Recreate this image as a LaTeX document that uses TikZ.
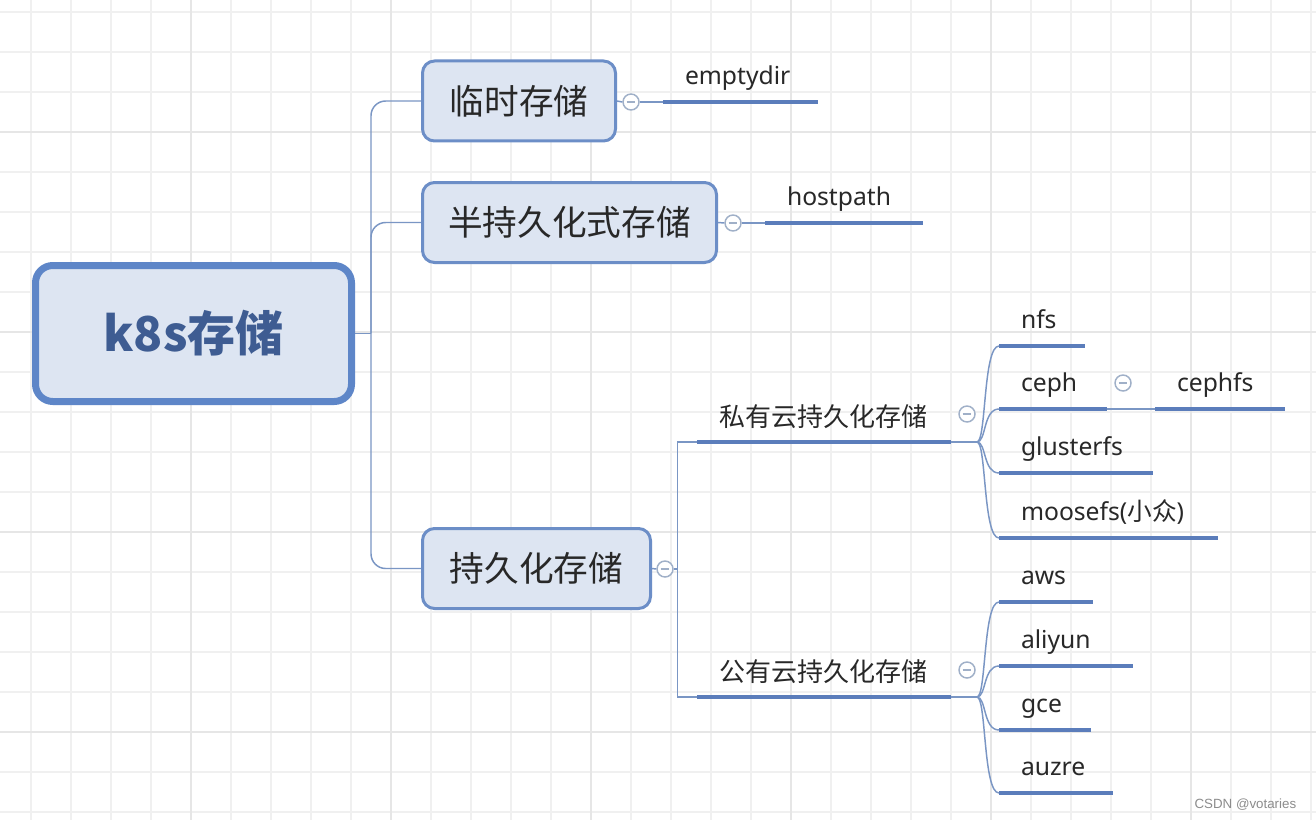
\documentclass[tikz,border=0pt]{standalone}
\usepackage{fontspec}
\setmainfont{Noto Sans}
\newfontfamily\cjk{Noto Sans CJK SC}
\newfontfamily\wmfont{Liberation Sans}
\usepackage{tikz}
\usetikzlibrary{positioning}

\definecolor{gridc}{RGB}{240,240,240}
\definecolor{gridm}{RGB}{230,230,230}
\definecolor{boxfill}{RGB}{221,229,242}
\definecolor{boxline}{RGB}{108,142,199}
\definecolor{rootline}{RGB}{94,134,200}
\definecolor{roottext}{RGB}{62,92,146}
\definecolor{connc}{RGB}{122,150,196}
\definecolor{topicc}{RGB}{91,125,187}
\definecolor{foldc}{RGB}{160,176,200}
\definecolor{textc}{RGB}{40,40,40}
\definecolor{wmc}{RGB}{140,140,140}

\begin{document}
\begin{tikzpicture}[x=0.75pt, y=-0.75pt, line width=0.5pt,
gridline/.style={gridc, line width=0.9pt},
gridmajor/.style={gridm, line width=1.1pt},
rootbox/.style={draw=rootline, fill=boxfill, line width=5.25pt, rounded corners=13pt,
  minimum width=237pt, minimum height=102pt, text=roottext,
  font=\cjk\bfseries\fontsize{36pt}{40pt}\selectfont},
box/.style={draw=boxline, fill=boxfill, line width=2.25pt, rounded corners=9pt,
  minimum height=60pt, text=textc, font=\cjk\fontsize{26pt}{30pt}\selectfont},
fold/.style={circle, draw=foldc, fill=white, line width=1.1pt, inner sep=0pt,
  minimum size=12pt, path picture={\draw[foldc, line width=0.9pt]
  ([xshift=-3.2pt]path picture bounding box.center) --
  ([xshift=3.2pt]path picture bounding box.center);}},
leaf/.style={anchor=south west, outer sep=0pt, inner xsep=16.5pt, inner ysep=13pt,
  text width=#1, align=left, text depth=0pt, text=textc,
  font=\fontsize{18.5pt}{22pt}\selectfont},
subtopic/.style={leaf=#1, inner ysep=12pt, font=\cjk\fontsize{19.5pt}{23pt}\selectfont},
topicline/.style={topicc, line width=3pt},
conn/.style={connc, line width=1.1pt},
fanline/.style={out=0, in=180, out distance=7pt, in distance=12pt}]

\useasboundingbox (0,0) rectangle (1316,820);
\fill[white] (0,0) rectangle (1316,820);

\foreach \x in {31,71,...,1311} \draw[gridline] (\x,0) -- (\x,820);
\foreach \y in {12,52,...,812} \draw[gridline] (0,\y) -- (1316,\y);
\foreach \x in {191,391,...,1191} \draw[gridmajor] (\x,0) -- (\x,820);
\foreach \y in {132,332,532,732} \draw[gridmajor] (0,\y) -- (1316,\y);

\node [rootbox] (root) at (193.5,333.5) {k8s存储};

\node [box, minimum width=144.75pt] (tmp) at (519,101) {临时存储};
\node [box, minimum width=220.5pt] (semi) at (569.5,222.5) {半持久化式存储};
\node [box, minimum width=171pt] (pers) at (536.5,568.5) {持久化存储};

\node [fold] (tmpc) at (631,102) {};
\node [fold] (semic) at (733,223) {};
\node [fold] (persc) at (665,569) {};
\node [fold] (privc) at (967,414) {};
\node [fold] (pubc) at (967,670) {};
\node [fold] (cephc) at (1123,383) {};

\node [leaf=83.25pt] (empty) at (663,102) {emptydir};
\node [leaf=85.5pt] (host) at (765,223) {hostpath};

\node [subtopic=157.5pt] (priv) at (697,442) {私有云持久化存储};
\node [subtopic=157.5pt] (pub) at (697,697) {公有云持久化存储};

\node [leaf=31.5pt] (nfs) at (999,346) {nfs};
\node [leaf=48pt] (ceph) at (999,409) {ceph};
\node [leaf=64.5pt] (cephfs) at (1155,409) {cephfs};
\node [leaf=82.5pt] (gluster) at (999,473) {glusterfs};
\node [leaf=131.25pt] (moose) at (999,538) {moosefs({\cjk 小众})};

\node [leaf=37.5pt] (aws) at (999,602) {aws};
\node [leaf=67.5pt] (aliyun) at (999,666) {aliyun};
\node [leaf=36pt] (gce) at (999,730) {gce};
\node [leaf=52.5pt] (auzre) at (999,793) {auzre};

\foreach \n in {empty,host,priv,pub,nfs,ceph,cephfs,gluster,moose,aws,aliyun,gce,auzre}
  \draw[topicline] (\n.south west) -- (\n.south east);

\coordinate (trunk) at ([xshift=12pt]root.east);
\draw[conn] (root.east) -- (trunk);
\draw[conn, rounded corners=11pt] (trunk) |- (tmp.west);
\draw[conn, rounded corners=11pt] (trunk) |- (semi.west);
\draw[conn, rounded corners=11pt] (trunk) |- (pers.west);

\draw[conn] (tmp.east) -- (tmpc.west);
\draw[conn] (tmpc.east) -- (empty.south west);
\draw[conn] (semi.east) -- (semic.west);
\draw[conn] (semic.east) -- (host.south west);

\draw[conn] (pers.east) -- (persc.west);
\coordinate (pfork) at ([xshift=3pt]persc.east);
\draw[conn] (persc.east) -- (pfork);
\draw[conn] (pfork) |- (priv.south west);
\draw[conn] (pfork) |- (pub.south west);

\coordinate (privfan) at ([xshift=19.5pt]priv.south east);
\draw[conn] (priv.south east) -- (privfan);
\foreach \n in {nfs,ceph,gluster,moose}
  \draw[conn] (privfan) to[fanline] (\n.south west);

\coordinate (pubfan) at ([xshift=19.5pt]pub.south east);
\draw[conn] (pub.south east) -- (pubfan);
\foreach \n in {aws,aliyun,gce,auzre}
  \draw[conn] (pubfan) to[fanline] (\n.south west);

\draw[conn] (ceph.south east) -- (cephfs.south west);

\node [font=\wmfont\fontsize{10pt}{12pt}\selectfont, text=wmc, anchor=east] (mark)
  at (1301,805) {CSDN @votaries};

\end{tikzpicture}
\end{document}
